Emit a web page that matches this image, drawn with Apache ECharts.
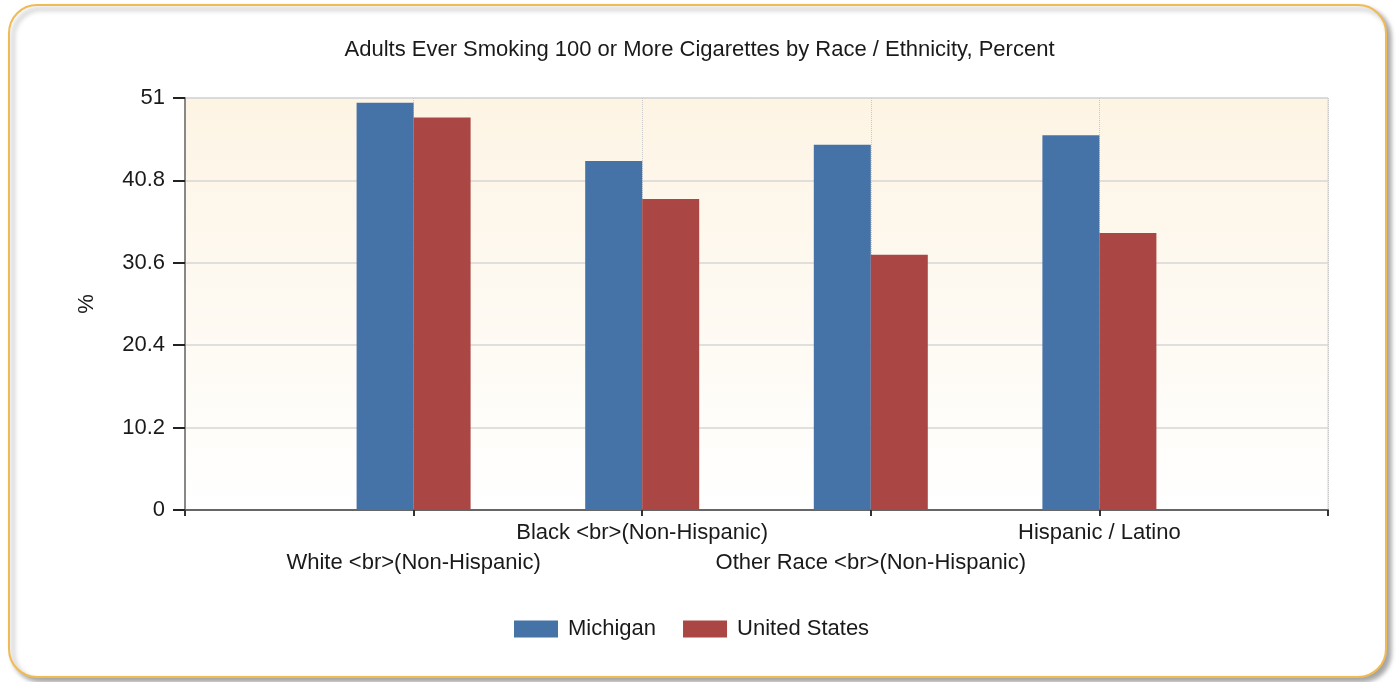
<!DOCTYPE html>
<html>
<head>
<meta charset="utf-8">
<script src="https://cdn.jsdelivr.net/npm/echarts@6/dist/echarts.min.js"></script>
<style>
html,body{margin:0;padding:0;background:#fff;}
#c{width:1399px;height:682px;}
</style>
</head>
<body>
<div id="c"></div>
<script>
const categories = ['', 'White <br>(Non-Hispanic)', 'Black <br>(Non-Hispanic)', 'Other Race <br>(Non-Hispanic)', 'Hispanic / Latino', ''];
const michigan = [null, 50.4, 43.2, 45.2, 46.4, null];
const unitedStates = [null, 48.6, 38.5, 31.6, 34.3, null];
const yTicks = { min: 0, max: 51, interval: 10.2 };
const seriesNames = ['Michigan', 'United States'];

const toPoints = arr => arr.map((v, i) => [i, v]).filter(p => p[1] !== null);

const chart = echarts.init(document.getElementById('c'));
const font = '"Liberation Sans", Arial, sans-serif';
const txt = '#1a1a1a';
chart.setOption({
  animation: false,
  textStyle: { fontFamily: font },
  graphic: [{
    type: 'rect',
    z: -10,
    shape: { x: 9, y: 5, width: 1377, height: 672, r: 28 },
    style: {
      fill: '#ffffff', stroke: '#f0bb55', lineWidth: 2,
      shadowBlur: 5, shadowOffsetX: 4, shadowOffsetY: 4, shadowColor: 'rgba(0,0,0,0.35)'
    }
  }],
  title: {
    text: 'Adults Ever Smoking 100 or More Cigarettes by Race / Ethnicity, Percent',
    left: 'center', top: 34,
    textStyle: { fontFamily: font, fontSize: 22, fontWeight: 'normal', color: txt }
  },
  legend: {
    top: 613, left: 509,
    itemWidth: 44, itemHeight: 17, itemGap: 27,
    icon: 'rect',
    textStyle: { fontFamily: font, fontSize: 22, color: txt, padding: [0, 0, 0, 5] },
    data: seriesNames
  },
  grid: {
    left: 185, right: 71, top: 98, bottom: 172,
    show: true, borderColor: '#d4d4d4', borderWidth: 1,
    backgroundColor: new echarts.graphic.LinearGradient(0, 0, 0, 1, [
      { offset: 0, color: '#fdf4e4' },
      { offset: 1, color: '#ffffff' }
    ])
  },
  xAxis: [{
    type: 'value',
    min: 0, max: categories.length - 1, interval: 1,
    axisLine: { show: true, onZero: false, lineStyle: { color: '#666', width: 2 } },
    axisTick: { show: false },
    axisLabel: {
      margin: 8, fontSize: 22, lineHeight: 30, color: txt, fontFamily: font,
      showMinLabel: true, showMaxLabel: true, hideOverlap: false,
      formatter: function (v) {
        const i = Math.round(v);
        const s = categories[i] || '';
        return (i % 2 === 1 && s) ? '\n' + s : s;
      }
    },
    splitLine: { show: true, lineStyle: { color: '#c8c8c8', type: 'dotted' } }
  }, {
    type: 'value',
    position: 'bottom',
    z: 20,
    min: 0, max: categories.length - 1, interval: 1,
    axisLine: { show: false, onZero: false },
    axisTick: { show: true, length: 6, lineStyle: { color: '#333', width: 2 } },
    axisLabel: { show: false },
    splitLine: { show: false }
  }],
  yAxis: {
    type: 'value',
    min: yTicks.min, max: yTicks.max, interval: yTicks.interval,
    name: '%', nameLocation: 'middle', nameRotate: 90, nameGap: 87,
    nameTextStyle: { fontSize: 22, color: txt, fontFamily: font },
    axisLine: { show: true, lineStyle: { color: '#888', width: 2 } },
    axisTick: { show: true, length: 12, lineStyle: { color: '#222', width: 2 } },
    axisLabel: { fontSize: 22, color: txt, margin: 20, fontFamily: font },
    splitLine: { lineStyle: { color: '#d6d6d6', width: 1.5 } }
  },
  series: [
    { name: seriesNames[0], type: 'bar', xAxisIndex: 0, data: toPoints(michigan), barWidth: 57, barGap: '0%',
      itemStyle: { color: '#4572a7' } },
    { name: seriesNames[1], type: 'bar', xAxisIndex: 0, data: toPoints(unitedStates), barWidth: 57, barGap: '0%',
      itemStyle: { color: '#aa4643' } }
  ]
});
</script>
</body>
</html>
